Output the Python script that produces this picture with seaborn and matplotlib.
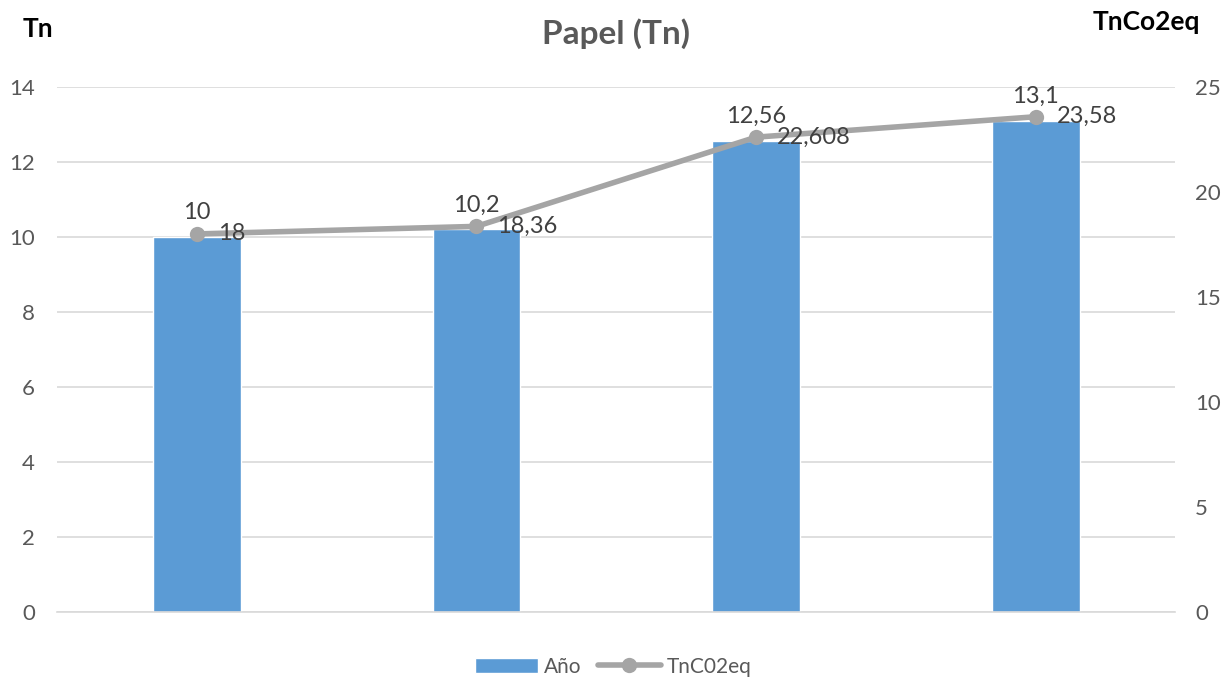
import matplotlib
matplotlib.use("Agg")
import matplotlib.pyplot as plt
import seaborn as sns
import numpy as np
import pandas as pd
from matplotlib.lines import Line2D
from matplotlib.patches import Patch

categories = ["1", "2", "3", "4"]
ano_values = [10, 10.2, 12.56, 13.1]
tnco2_values = [18, 18.36, 22.608, 23.58]
ano_labels = ["10", "10,2", "12,56", "13,1"]
tnco2_labels = ["18", "18,36", "22,608", "23,58"]
left_ticks = [0, 2, 4, 6, 8, 10, 12, 14]
right_ticks = [0, 5, 10, 15, 20, 25]

sns.set_theme(style="white")
plt.rcParams['font.family'] = ['Lato', 'DejaVu Sans']

df = pd.DataFrame({"cat": categories, "ano": ano_values, "tn": tnco2_values,
                   "pos": np.arange(len(categories))})

fig = plt.figure(figsize=(12.27, 6.79), dpi=100)
ax = fig.add_axes([0.0465, 0.0987, 0.9115, 0.7733])

bar_color = "#5B9BD5"
line_color = "#A5A5A5"
tick_color = "#595959"
lab_color = "#404040"

sns.barplot(data=df, x="pos", y="ano", color=bar_color, width=0.314,
            saturation=1, ax=ax, native_scale=True)
ax.set_xlim(-0.5, len(categories) - 0.5)
ax.set_ylim(0, 14)
ax.set_yticks(left_ticks)
ax.set_yticklabels([str(t) for t in left_ticks])
ax.set_xticks([])
ax.set_xlabel("")
ax.set_ylabel("")
ax.grid(axis="y", color="#D9D9D9", linewidth=1.2)
ax.set_axisbelow(True)
for s in ["top", "right", "left"]:
    ax.spines[s].set_visible(False)
ax.spines["bottom"].set_color("#D9D9D9")
ax.spines["bottom"].set_linewidth(1.2)
ax.tick_params(axis="y", length=0, labelsize=16, labelcolor=tick_color, pad=16)

ax2 = ax.twinx()
sns.lineplot(data=df, x="pos", y="tn", color=line_color, linewidth=4,
             marker="o", markersize=11, markeredgewidth=0, ax=ax2)
ax2.set_ylim(0, 25)
ax2.set_yticks(right_ticks)
ax2.set_yticklabels([str(t) for t in right_ticks])
ax2.set_xlim(-0.5, len(categories) - 0.5)
ax2.set_ylabel("")
ax2.set_xlabel("")
for s in ["top", "right", "left", "bottom"]:
    ax2.spines[s].set_visible(False)
ax2.tick_params(axis="y", length=0, labelsize=16, labelcolor=tick_color, pad=14)

for i, (v, lab) in enumerate(zip(ano_values, ano_labels)):
    ax.annotate(lab, (i, v), xytext=(0, 10), textcoords="offset points",
                ha="center", va="bottom", fontsize=17, color=lab_color)
for i, (v, lab) in enumerate(zip(tnco2_values, tnco2_labels)):
    ax2.annotate(lab, (i, v), xytext=(15, 0), textcoords="offset points",
                 ha="left", va="center", fontsize=17, color=lab_color)

fig.text(0.502, 0.951, "Papel (Tn)", ha="center", va="center", fontsize=24,
         fontweight="bold", color=tick_color)
fig.text(0.031, 0.958, "Tn", ha="center", va="center", fontsize=19,
         fontweight="bold", color="black")
fig.text(0.934, 0.967, "TnCo2eq", ha="center", va="center", fontsize=19,
         fontweight="bold", color="black")

handles = [Patch(facecolor=bar_color, label="Año"),
           Line2D([0], [0], color=line_color, linewidth=4, marker="o",
                  markersize=11, markeredgewidth=0, label="TnC02eq")]
fig.legend(handles=handles, loc="center", bbox_to_anchor=(0.5, 0.018),
           ncol=2, frameon=False, fontsize=15, labelcolor=tick_color,
           handlelength=3.0, columnspacing=0.8, handletextpad=0.3)

fig.savefig("out.png", dpi=100)
